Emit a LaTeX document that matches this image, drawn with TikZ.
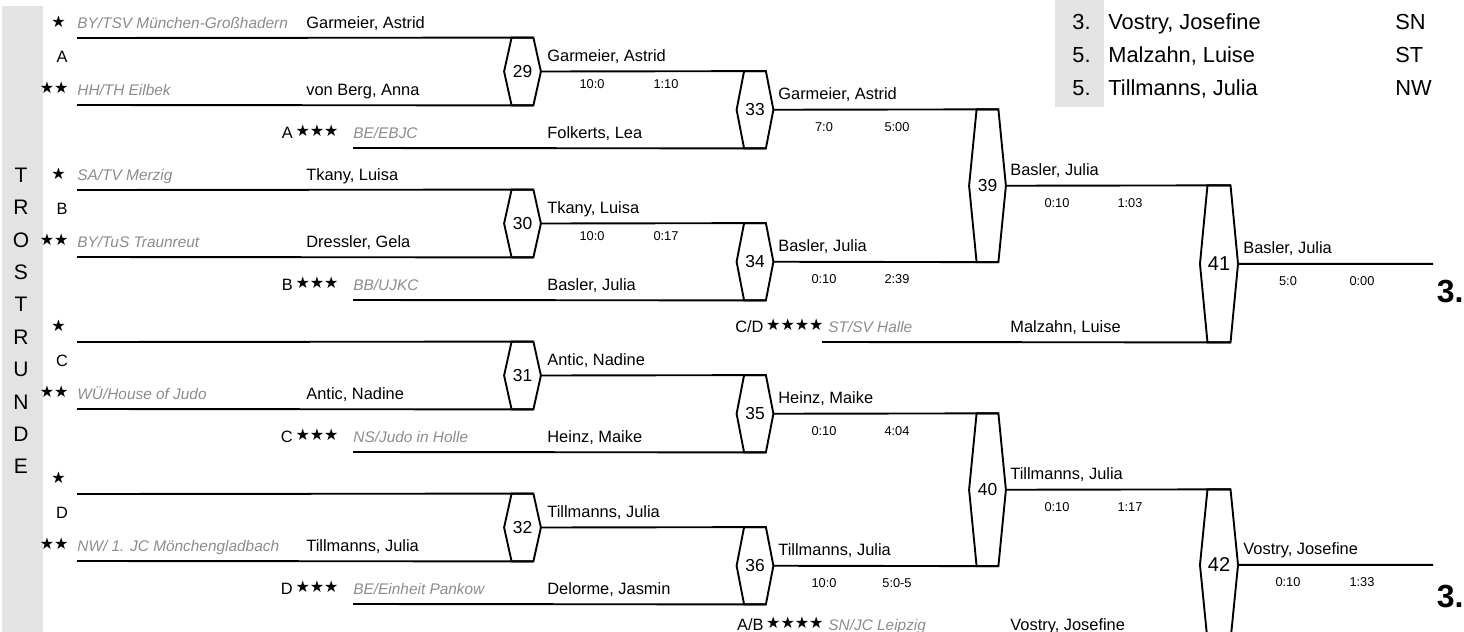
\documentclass[tikz,border=0pt]{standalone}
\usepackage{fontspec}
\setmainfont{Liberation Sans}
\newfontfamily\sternfont{DejaVu Sans}
\usetikzlibrary{positioning,calc}
\definecolor{hellgrau}{gray}{0.89}
\definecolor{vereinsgrau}{gray}{0.55}
\newcommand{\sterne}[1]{\raisebox{0.6pt}{\sternfont\fontsize{8}{9}\selectfont #1}}
% Sechseck fuer einen Kampf: [Optionen], Name, x, y oben, y unten, Nummer
\newcommand{\sechseck}[6][]{%
  \node[kampf,#1,minimum height={(#5-#4)*0.5pt}] (#2) at (#3,{(#4+#5)/2}) {#6};
  \draw[linie] (#2.north west) -- (#2.north east) -- ([shift={(7.5,0)}]#2.east) coordinate (#2r)
    -- (#2.south east) -- (#2.south west) -- ([shift={(-7.5,0)}]#2.west) -- cycle;}
\tikzset{
    %Define standard line style
    linie/.style={draw=black, line width=0.95pt},
    % Define style for match hexagons
    kampf/.style={rectangle, inner sep=0pt, minimum width=10.5pt,
           font=\fontsize{8.7}{9}\selectfont},
    % Define styles for texts
    kaempfer/.style={anchor=base west, inner sep=0pt, font=\fontsize{8.2}{9}\selectfont},
    verein/.style={anchor=base west, inner sep=0pt, text=vereinsgrau,
           font=\fontsize{7.7}{9}\selectfont\itshape},
    wertung/.style={anchor=base, inner sep=0pt, font=\fontsize{6.4}{7}\selectfont},
    stern/.style={anchor=east, inner sep=0pt},
    setzung/.style={anchor=base east, inner sep=0pt, font=\fontsize{8.2}{9}\selectfont},
    pool/.style={inner sep=0pt, font=\fontsize{8.2}{9}\selectfont},
    senkrecht/.style={inner sep=0pt, font=\fontsize{10.5}{11}\selectfont},
    platz/.style={anchor=base west, inner sep=0pt, font=\fontsize{10.9}{12}\selectfont},
    drei/.style={anchor=east, inner sep=0pt, font=\fontsize{16}{17}\selectfont\bfseries}
}

\begin{document}
\begin{tikzpicture}[x=0.5pt,y=-0.5pt]
  \useasboundingbox (0,0) rectangle (1464,632);
  % grey backgrounds
  \fill[hellgrau] (2,6) rectangle (43,632);
  \fill[hellgrau] (1055,0) rectangle (1104,107);
  \foreach \b [count=\i from 0] in {T,R,O,S,T,R,U,N,D,E}
    \node[senkrecht] (tr\i) at (21,175+32.4*\i) {\b};

  % results
  \node[platz] (p1) at (1072,29) {3.};
  \node[platz] (n1) at (1108,29) {Vostry, Josefine};
  \node[platz] (v1) at (1395,29) {SN};
  \node[platz] (p2) at (1072,62) {5.};
  \node[platz] (n2) at (1108,62) {Malzahn, Luise};
  \node[platz] (v2) at (1395,62) {ST};
  \node[platz] (p3) at (1072,95) {5.};
  \node[platz] (n3) at (1108,95) {Tillmanns, Julia};
  \node[platz] (v3) at (1395,95) {NW};

  % pool A
  \node[stern] (sa1) at (66,22) {\sterne{★}};
  \node[verein] (va1) at (77,28) {BY/TSV München-Großhadern};
  \node[kaempfer] (ka1) at (306,28) {Garmeier, Astrid};
  \node[pool] (pa) at (62,57) {A};
  \node[stern] (sa2) at (69,88) {\sterne{★★}};
  \node[verein] (va2) at (77,95) {HH/TH Eilbek};
  \node[kaempfer] (ka2) at (306,95) {von Berg, Anna};
  \node[setzung] (sa3) at (339,138) {A\,\sterne{★★★}};
  \node[verein] (va3) at (353,138) {BE/EBJC};
  \node[kaempfer] (ka3) at (547,138) {Folkerts, Lea};
  \coordinate (la1) at (77,38);
  \coordinate (la2) at (77,105);
  \coordinate (la3) at (353,148);
  \sechseck{k29}{522.5}{38}{105}{29}
  \sechseck{k33}{755}{71.5}{148}{33}
  \draw[linie] (la1) -- (k29.north east) (la2) -- (k29.south east)
    (k29r) -- (k33.north east) (la3) -- (k33.south east);
  \node[kaempfer] (s29) at (547,61.5) {Garmeier, Astrid};
  \node[wertung] (w29a) at (592,88) {10:0};
  \node[wertung] (w29b) at (666,88) {1:10};
  \node[kaempfer] (s33) at (778,99.75) {Garmeier, Astrid};
  \node[wertung] (w33a) at (824,131.75) {7:0};
  \node[wertung] (w33b) at (897,131.75) {5:00};

  % pool B
  \node[stern] (sb1) at (66,174) {\sterne{★}};
  \node[verein] (vb1) at (77,180) {SA/TV Merzig};
  \node[kaempfer] (kb1) at (306,180) {Tkany, Luisa};
  \node[pool] (pb) at (62,209) {B};
  \node[stern] (sb2) at (69,240) {\sterne{★★}};
  \node[verein] (vb2) at (77,247) {BY/TuS Traunreut};
  \node[kaempfer] (kb2) at (306,247) {Dressler, Gela};
  \node[setzung] (sb3) at (339,290) {B\,\sterne{★★★}};
  \node[verein] (vb3) at (353,290) {BB/UJKC};
  \node[kaempfer] (kb3) at (547,290) {Basler, Julia};
  \coordinate (lb1) at (77,190);
  \coordinate (lb2) at (77,257);
  \coordinate (lb3) at (353,300);
  \sechseck{k30}{522.5}{190}{257}{30}
  \sechseck{k34}{755}{223.5}{300}{34}
  \draw[linie] (lb1) -- (k30.north east) (lb2) -- (k30.south east)
    (k30r) -- (k34.north east) (lb3) -- (k34.south east);
  \node[kaempfer] (s30) at (547,213.5) {Tkany, Luisa};
  \node[wertung] (w30a) at (592,240) {10:0};
  \node[wertung] (w30b) at (666,240) {0:17};
  \node[kaempfer] (s34) at (778,251.75) {Basler, Julia};
  \node[wertung] (w34a) at (824,283.75) {0:10};
  \node[wertung] (w34b) at (897,283.75) {2:39};

  % pool C
  \node[stern] (sc1) at (66,326) {\sterne{★}};
  \node[pool] (pc) at (62,361) {C};
  \node[stern] (sc2) at (69,392) {\sterne{★★}};
  \node[verein] (vc2) at (77,399) {WÜ/House of Judo};
  \node[kaempfer] (kc2) at (306,399) {Antic, Nadine};
  \node[setzung] (sc3) at (339,442) {C\,\sterne{★★★}};
  \node[verein] (vc3) at (353,442) {NS/Judo in Holle};
  \node[kaempfer] (kc3) at (547,442) {Heinz, Maike};
  \coordinate (lc1) at (77,342);
  \coordinate (lc2) at (77,409);
  \coordinate (lc3) at (353,452);
  \sechseck{k31}{522.5}{342}{409}{31}
  \sechseck{k35}{755}{375.5}{452}{35}
  \draw[linie] (lc1) -- (k31.north east) (lc2) -- (k31.south east)
    (k31r) -- (k35.north east) (lc3) -- (k35.south east);
  \node[kaempfer] (s31) at (547,365.5) {Antic, Nadine};
  \node[kaempfer] (s35) at (778,403.75) {Heinz, Maike};
  \node[wertung] (w35a) at (824,435.75) {0:10};
  \node[wertung] (w35b) at (897,435.75) {4:04};

  % pool D
  \node[stern] (sd1) at (66,478) {\sterne{★}};
  \node[pool] (pd) at (62,513) {D};
  \node[stern] (sd2) at (69,544) {\sterne{★★}};
  \node[verein] (vd2) at (77,551) {NW/ 1. JC Mönchengladbach};
  \node[kaempfer] (kd2) at (306,551) {Tillmanns, Julia};
  \node[setzung] (sd3) at (339,594) {D\,\sterne{★★★}};
  \node[verein] (vd3) at (353,594) {BE/Einheit Pankow};
  \node[kaempfer] (kd3) at (547,594) {Delorme, Jasmin};
  \coordinate (ld1) at (77,494);
  \coordinate (ld2) at (77,561);
  \coordinate (ld3) at (353,604);
  \sechseck{k32}{522.5}{494}{561}{32}
  \sechseck{k36}{755}{527.5}{604}{36}
  \draw[linie] (ld1) -- (k32.north east) (ld2) -- (k32.south east)
    (k32r) -- (k36.north east) (ld3) -- (k36.south east);
  \node[kaempfer] (s32) at (547,517.5) {Tillmanns, Julia};
  \node[kaempfer] (s36) at (778,555.75) {Tillmanns, Julia};
  \node[wertung] (w36a) at (824,587.75) {10:0};
  \node[wertung] (w36b) at (897,587.75) {5:0-5};

  % third round
  \sechseck{k39}{987.5}{109.75}{261.75}{39}
  \sechseck{k40}{987.5}{413.75}{565.75}{40}
  \draw[linie] (k33r) -- (k39.north east) (k34r) -- (k39.south east)
    (k35r) -- (k40.north east) (k36r) -- (k40.south east);
  \node[kaempfer] (s39) at (1010,175.75) {Basler, Julia};
  \node[wertung] (w39a) at (1057,207.75) {0:10};
  \node[wertung] (w39b) at (1130,207.75) {1:03};
  \node[kaempfer] (s40) at (1010,479.75) {Tillmanns, Julia};
  \node[wertung] (w40a) at (1057,511.75) {0:10};
  \node[wertung] (w40b) at (1130,511.75) {1:17};

  % from the other pools
  \node[setzung] (scd) at (824,332) {C/D\,\sterne{★★★★}};
  \node[verein] (vcd) at (828,332) {ST/SV Halle};
  \node[kaempfer] (kcd) at (1010,332) {Malzahn, Luise};
  \coordinate (lcd) at (822,342);
  \node[setzung] (sab) at (824,630) {A/B\,\sterne{★★★★}};
  \node[verein] (vab) at (828,630) {SN/JC Leipzig};
  \node[kaempfer] (kab) at (1010,630) {Vostry, Josefine};
  \coordinate (lab) at (822,640);

  % fourth round
  \sechseck[font=\fontsize{10}{11}\selectfont]{k41}{1219}{185.75}{342}{41}
  \sechseck[font=\fontsize{10}{11}\selectfont]{k42}{1219}{489.75}{640}{42}
  \coordinate (ziel) at (1433,0);
  \draw[linie] (k39r) -- (k41.north east) (lcd) -- (k41.south east)
    (k40r) -- (k42.north east) (lab) -- (k42.south east)
    (k41r) -- (k41r -| ziel) (k42r) -- (k42r -| ziel);
  \node[kaempfer] (s41) at (1243,253.875) {Basler, Julia};
  \node[wertung] (w41a) at (1288,285.875) {5:0};
  \node[wertung] (w41b) at (1362,285.875) {0:00};
  \node[kaempfer] (s42) at (1243,554.875) {Vostry, Josefine};
  \node[wertung] (w42a) at (1288,586.875) {0:10};
  \node[wertung] (w42b) at (1362,586.875) {1:33};
  \node[drei] (d41) at (1464,292) {3.};
  \node[drei] (d42) at (1464,597) {3.};
\end{tikzpicture}
\end{document}
